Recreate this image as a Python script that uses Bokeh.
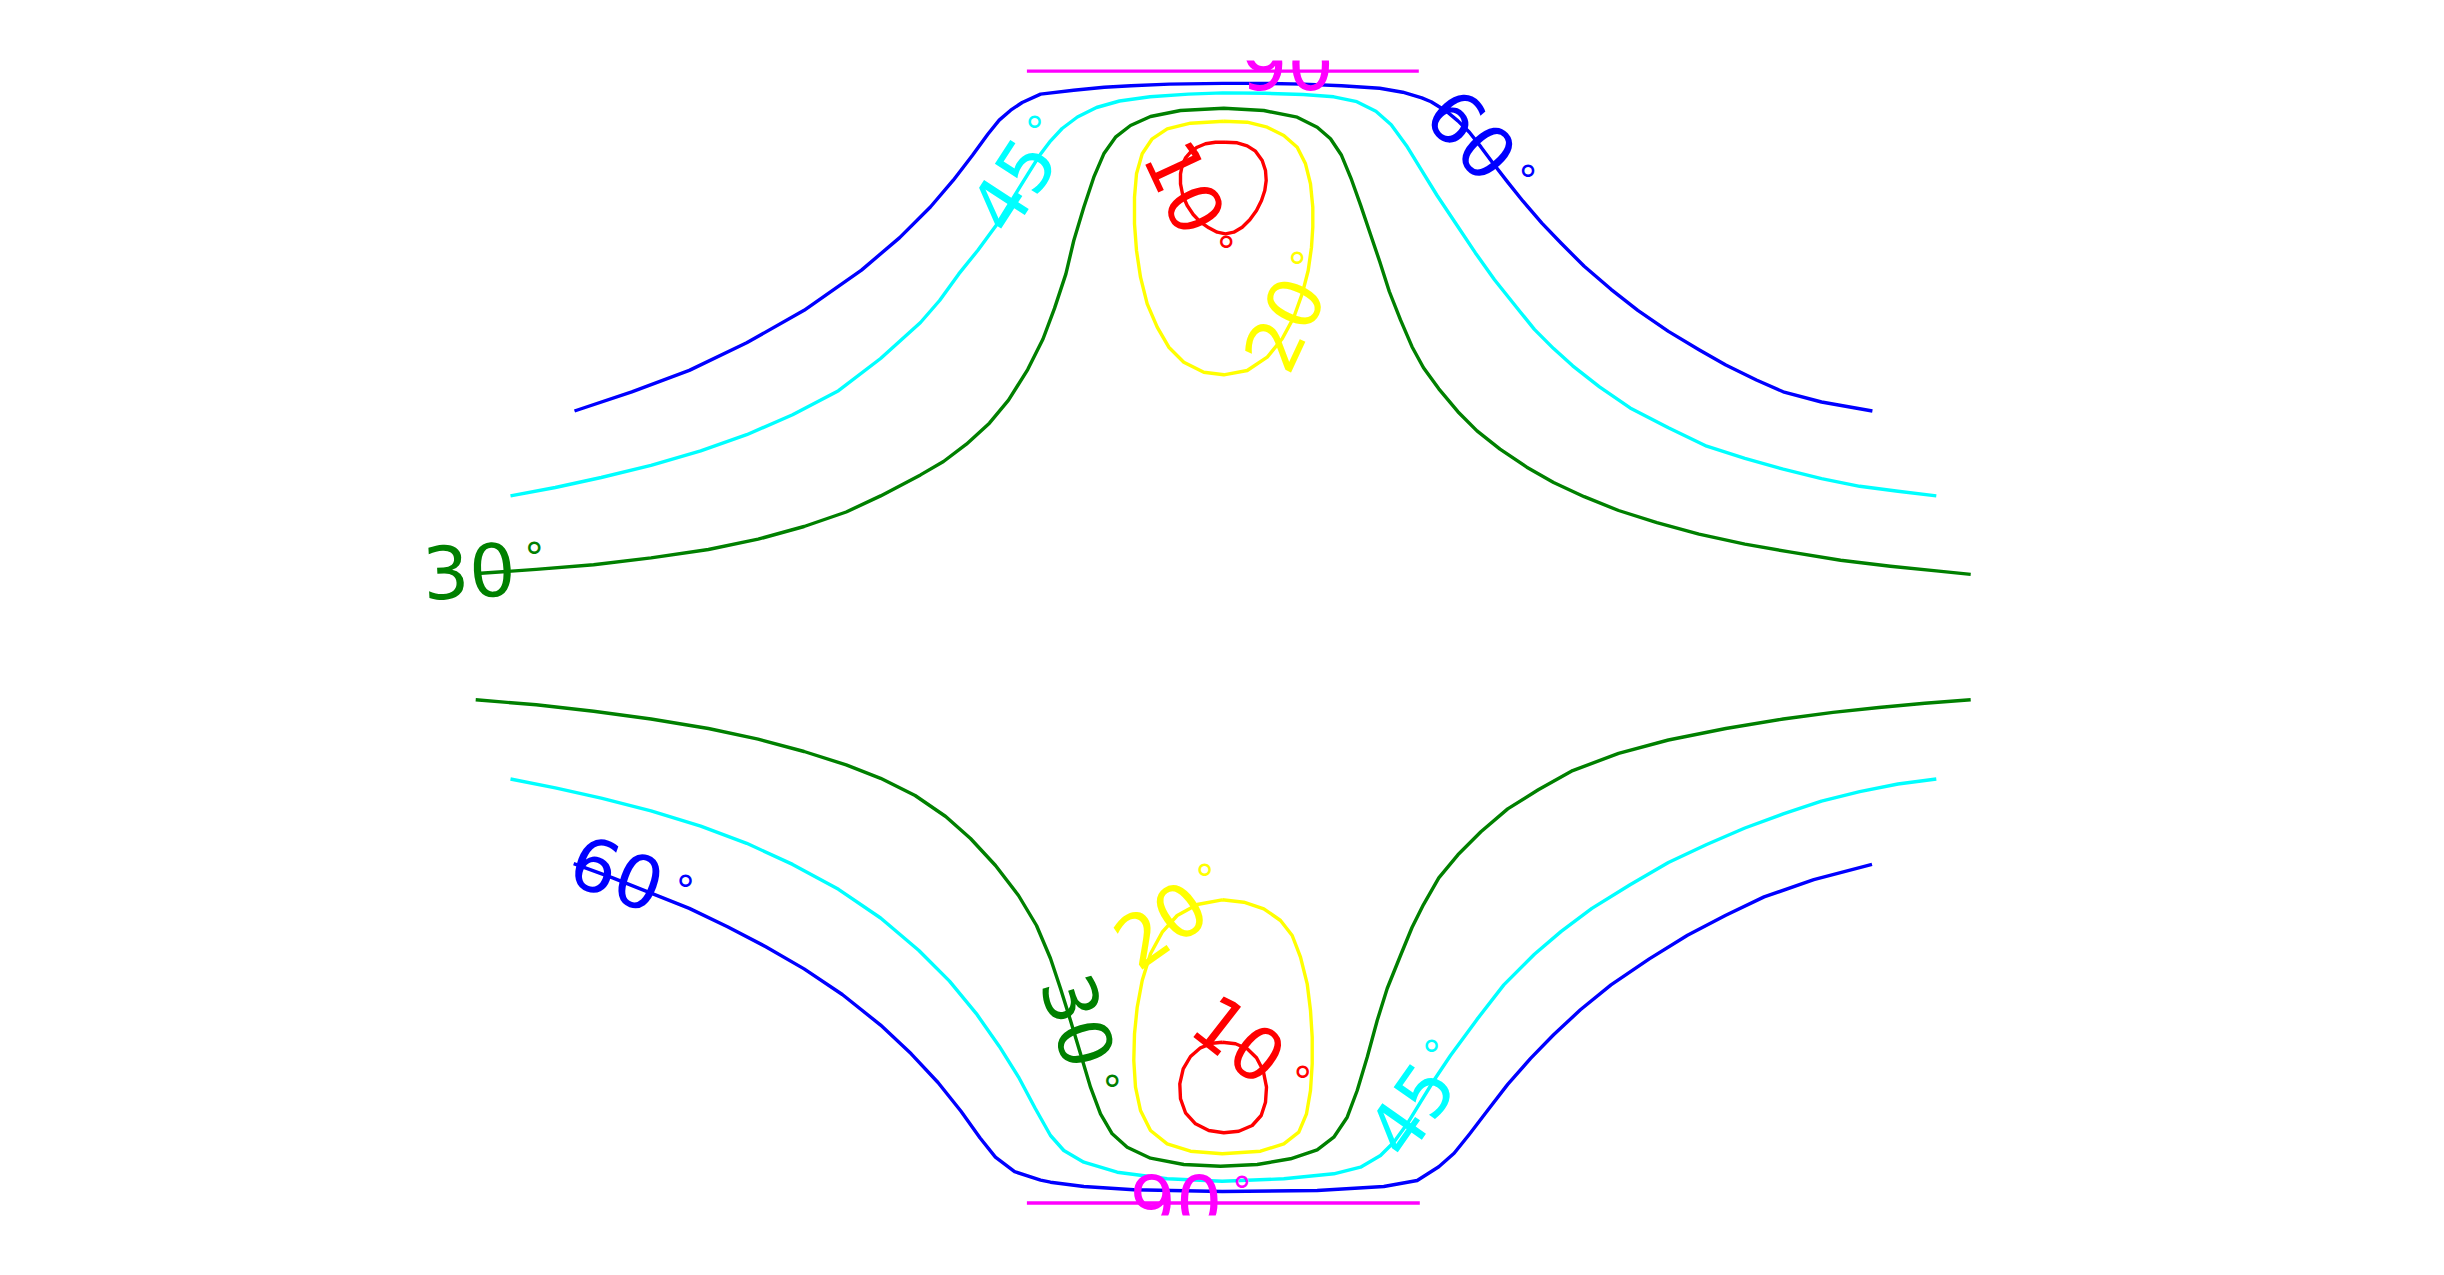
from bokeh.plotting import figure
from bokeh.models import Range1d, ColumnDataSource
from bokeh.embed import file_html
from bokeh.resources import INLINE
from bokeh.core.properties import value

# ---- contour levels and their colours ----
levels = [10, 20, 30, 45, 60, 90]
level_colors = ["#ff0000", "#ffff00", "#008000", "#00ffff", "#0000ff", "#ff00ff"]

# ---- contour paths (page pixel units, y downward) ----
c60_top_x = [574.0, 631.3, 688.8, 746.2, 803.6, 861.0, 899.2, 929.9, 952.8, 972.0, 987.3, 998.7, 1010.2, 1021.7, 1040.1,
             1073.1, 1103.7, 1130.5, 1168.8, 1222.3, 1264.4, 1302.7, 1341.0, 1379.2, 1402.2, 1421.3,
             1430.6, 1445.9, 1457.4, 1468.9, 1480.4, 1491.8, 1507.2, 1522.5, 1541.6, 1560.7, 1583.7, 1610.5,
             1637.3, 1667.9, 1698.5, 1725.3, 1755.9, 1782.7, 1821.0, 1871.9]
c60_top_y = [410.5, 391.3, 369.9, 342.3, 309.8, 269.6, 237.1, 206.5, 179.7, 154.8, 133.8, 119.6, 109.7, 102.0, 93.6,
             89.8, 86.7, 85.2, 83.6, 82.9, 82.9, 83.6, 85.2, 87.8, 91.7, 97.4,
             101.2, 110.8, 120.4, 131.8, 146.4, 161.7, 181.6, 200.7, 222.9, 242.8, 265.8, 288.8,
             309.8, 330.9, 349.2, 364.5, 379.5, 391.3, 401.5, 410.5]

c45_top_x = [510.0, 554.8, 600.7, 650.5, 700.2, 746.2, 792.1, 838.0, 880.1,
             920.0, 939.1, 958.3, 977.4, 996.5, 1011.8, 1027.2, 1038.6, 1050.1, 1061.6, 1076.9, 1096.0, 1119.0,
             1149.6, 1187.9, 1222.3, 1264.4, 1302.7, 1333.3, 1356.3, 1375.4, 1390.7, 1406.0, 1421.3, 1436.6,
             1455.8, 1474.9, 1494.0, 1520.0, 1533.9, 1553.1, 1572.2, 1599.0, 1629.6, 1667.9, 1706.2, 1744.4,
             1782.7, 1821.0, 1859.2, 1897.5, 1935.8]
c45_top_y = [495.4, 487.0, 477.0, 464.8, 450.3, 434.2, 414.3, 390.2, 358.0,
             322.0, 300.0, 273.4, 249.7, 223.7, 198.8, 173.9, 155.6, 140.3, 128.0, 116.5, 107.0, 100.5,
             96.3, 93.6, 92.4, 92.8, 94.0, 96.3, 101.2, 110.8, 124.2, 145.2, 170.1, 195.0,
             223.7, 252.4, 279.2, 311.7, 328.9, 348.1, 365.3, 386.3, 407.4, 427.3, 445.7, 457.9,
             468.6, 478.2, 485.8, 490.8, 495.4]

c30_top_x = [480.2, 535.7, 593.1, 650.5, 707.9, 757.6, 803.6, 845.7, 880.1,
             920.0, 943.0, 965.9, 988.9, 1008.0, 1027.2, 1042.5, 1054.0, 1065.4,
             1073.3, 1083.3, 1093.3, 1103.3, 1115.0, 1130.0, 1150.0, 1180.0, 1223.3, 1263.3, 1296.7, 1316.7, 1330.0,
             1341.0, 1350.5, 1360.1, 1369.7, 1379.2, 1388.8,
             1400.0, 1411.5, 1423.0, 1438.3, 1457.4, 1476.5, 1499.5, 1526.3, 1553.1, 1583.7, 1618.1, 1656.4,
             1698.5, 1744.4, 1790.4, 1840.1, 1889.9, 1935.8, 1970.2]
c30_top_y = [572.7, 568.9, 564.3, 557.4, 549.0, 538.7, 526.0, 511.5, 495.4,
             474.4, 461.0, 443.7, 422.7, 399.7, 369.1, 338.5, 307.9, 273.4,
             240.0, 206.7, 176.7, 153.3, 136.7, 125.0, 116.0, 110.0, 107.7, 110.0, 116.7, 126.7, 138.3,
             154.8, 177.8, 204.6, 233.0, 261.0, 291.0,
             319.4, 346.2, 367.2, 388.3, 411.2, 430.4, 448.7, 466.7, 482.0, 496.2, 510.0, 522.2,
             533.7, 543.6, 551.7, 559.7, 565.8, 570.4, 573.9]

c20_top_x = [1223.3, 1246.7, 1266.7, 1283.3, 1296.7, 1305.0, 1310.0, 1312.3, 1312.3, 1311.0, 1307.7, 1301.7,
             1293.3, 1281.7, 1266.7, 1246.7, 1223.3, 1203.3, 1183.3, 1168.3, 1156.7, 1146.7, 1140.0, 1136.0,
             1134.0, 1134.0, 1136.0, 1141.7, 1151.7, 1166.7, 1190.0, 1223.3]
c20_top_y = [120.7, 121.7, 126.7, 135.0, 146.7, 163.3, 183.3, 206.7, 226.7, 246.7, 270.0, 293.3,
             316.7, 338.3, 356.7, 370.0, 374.3, 371.7, 361.7, 346.7, 326.7, 303.3, 276.7, 250.0,
             223.3, 196.7, 173.3, 153.3, 138.3, 128.3, 122.7, 120.7]

c10_top_x = [1225.0, 1236.7, 1246.7, 1255.0, 1261.7, 1265.0, 1265.7, 1264.3, 1261.0, 1256.0, 1249.3, 1241.7,
             1233.3, 1225.0, 1216.7, 1208.3, 1200.0, 1192.7, 1186.7, 1182.3, 1180.0, 1180.0, 1181.7, 1185.0,
             1190.0, 1196.7, 1205.0, 1215.0, 1225.0]
c10_top_y = [141.7, 142.3, 145.3, 150.7, 160.0, 170.0, 180.0, 190.0, 200.0, 210.0, 219.3, 226.7,
             231.7, 233.3, 231.7, 227.3, 221.7, 214.0, 205.0, 195.0, 183.3, 173.3, 165.0, 157.3,
             151.7, 146.7, 143.3, 141.7, 141.7]

c90_top_x = [1026.4, 1418.3]
c90_top_y = [70.6, 70.6]

c60_bot_x = [573.2, 612.2, 650.5, 688.8, 727.0, 765.3, 803.6, 841.8, 880.1, 910.7, 937.5, 960.5, 979.6, 994.9,
             1014.1, 1040.1, 1050.0, 1083.3, 1133.3, 1221.7, 1316.7, 1383.3, 1416.7,
             1438.3, 1453.6, 1468.9, 1488.0, 1507.2, 1530.1, 1553.1, 1579.9, 1610.5, 1648.8, 1687.0, 1725.3,
             1763.6, 1813.3, 1871.5]
c60_bot_y = [863.1, 877.3, 892.6, 907.9, 926.3, 946.2, 968.4, 994.0, 1024.6, 1053.3, 1082.0, 1110.7, 1137.5, 1156.6,
             1171.2, 1179.6, 1181.7, 1186.0, 1189.3, 1191.0, 1190.0, 1186.0, 1180.0,
             1166.2, 1152.8, 1133.7, 1108.8, 1083.9, 1057.9, 1034.2, 1009.3, 984.4, 958.4, 934.7, 914.8,
             896.4, 879.2, 863.9]

c45_bot_x = [510.0, 554.8, 600.7, 650.5, 700.2, 746.2, 792.1, 838.0, 880.1, 918.4, 949.0, 975.8, 998.7, 1017.9,
             1034.8, 1050.0, 1063.3, 1083.3, 1116.7, 1166.7, 1221.7, 1283.3, 1333.3, 1360.0, 1380.0, 1393.3,
             1406.7, 1420.0, 1433.3, 1450.0, 1476.5, 1503.3, 1533.9, 1560.7, 1591.4, 1629.6, 1667.9, 1706.2,
             1744.4, 1782.7, 1821.0, 1859.2, 1897.5, 1935.8]
c45_bot_y = [778.5, 787.3, 797.7, 810.3, 825.6, 842.8, 863.9, 888.8, 917.5, 950.0, 980.6, 1013.1, 1045.7, 1076.3,
             1108.0, 1135.0, 1150.0, 1161.7, 1171.7, 1178.3, 1180.7, 1178.3, 1173.3, 1166.7, 1155.0, 1141.7,
             1123.3, 1101.7, 1080.0, 1055.0, 1018.9, 984.4, 953.8, 930.9, 907.9, 884.2, 862.0, 844.0,
             827.5, 813.4, 800.7, 791.2, 783.5, 778.5]

c30_bot_x = [475.2, 535.7, 593.1, 650.5, 707.9, 757.6, 803.6, 845.7, 880.1, 914.6, 945.2, 970.0, 995.0, 1018.0,
             1036.0, 1050.0, 1060.0, 1070.0, 1080.0, 1090.0, 1100.0, 1111.7, 1126.7, 1150.0, 1183.3, 1220.0, 1256.7,
             1290.0, 1316.7, 1333.3, 1346.7, 1356.7, 1366.7, 1376.7, 1386.7,
             1400.0, 1411.5, 1423.0, 1438.3, 1457.4, 1480.4, 1507.2, 1537.8, 1572.2, 1618.1, 1667.9, 1725.3,
             1782.7, 1832.5, 1878.4, 1924.3, 1970.2]
c30_bot_y = [699.3, 704.3, 710.8, 718.5, 728.0, 738.7, 751.0, 764.4, 777.8, 795.0, 816.0, 838.0, 865.0, 895.0,
             925.0, 958.0, 988.0, 1020.0, 1053.3, 1086.7, 1113.3, 1133.3, 1146.7, 1157.7, 1164.0, 1165.7, 1164.0,
             1158.3, 1149.3, 1136.7, 1116.7, 1090.0, 1056.7, 1020.0, 988.0,
             955.0, 927.0, 904.1, 877.3, 854.3, 831.3, 808.4, 789.3, 770.1, 752.9, 739.5, 728.0,
             718.5, 711.9, 707.0, 702.8, 699.3]

c20_bot_x = [1221.7, 1243.3, 1263.3, 1280.0, 1291.7, 1300.0, 1306.7, 1310.0, 1311.7, 1311.7, 1310.0, 1306.0,
             1298.3, 1283.3, 1260.0, 1221.7, 1190.0, 1166.7, 1150.0, 1140.0, 1135.0, 1133.3, 1134.0, 1136.7,
             1141.7, 1150.0, 1161.7, 1176.7, 1196.7, 1221.7]
c20_bot_y = [899.3, 901.7, 908.3, 920.0, 935.0, 956.7, 983.3, 1010.0, 1036.7, 1063.3, 1090.0, 1113.3,
             1131.7, 1143.3, 1150.7, 1153.3, 1150.7, 1143.3, 1130.0, 1110.0, 1086.7, 1060.0, 1033.3, 1006.7,
             980.0, 953.3, 931.7, 915.0, 904.0, 899.3]

c10_bot_x = [1221.7, 1235.0, 1246.7, 1256.0, 1262.7, 1266.0, 1265.0, 1260.7, 1251.7, 1238.3, 1223.3, 1208.3,
             1195.0, 1185.0, 1180.0, 1179.3, 1182.7, 1190.0, 1200.0, 1211.7, 1221.7]
c10_bot_y = [1041.7, 1043.3, 1048.3, 1057.3, 1070.0, 1086.7, 1101.7, 1115.0, 1125.0, 1130.7, 1132.3, 1130.0,
             1123.3, 1112.3, 1098.3, 1083.3, 1068.3, 1056.0, 1047.3, 1042.7, 1041.7]

c90_bot_x = [1026.4, 1419.3]
c90_bot_y = [1202.5, 1202.5]

# ---- inline contour labels ----
label_text = ["30", "45", "60", "10", "20", "90", "60", "30", "20", "10", "45", "90"]
label_level = [30, 45, 60, 10, 20, 90, 60, 30, 20, 10, 45, 90]
label_x = [468.5, 1012.0, 1471.6, 1185.0, 1283.3, 1287.0, 616.8, 1078.3, 1160.0, 1239.0, 1410.0, 1175.5]
label_y = [570.0, 184.0, 133.8, 186.7, 323.3, 62.5, 872.3, 1020.0, 923.3, 1038.3, 1108.3, 1200.0]
label_angle = [3, 57, -48, -65, 65, 0, -20, -73, 35, -38, 55, 0]
degree_x = [533.8, 1034.0, 1527.4, 1225.7, 1296.7, 1353.0, 684.9, 1111.7, 1204.3, 1302.3, 1431.0, 1241.5]
degree_y = [547.8, 121.7, 170.9, 241.0, 257.7, 44.0, 880.3, 1080.0, 869.0, 1071.0, 1045.0, 1181.5]

# ---- build sources ----
paths = [
    (60, c60_top_x, c60_top_y), (45, c45_top_x, c45_top_y), (30, c30_top_x, c30_top_y),
    (20, c20_top_x, c20_top_y), (10, c10_top_x, c10_top_y), (90, c90_top_x, c90_top_y),
    (60, c60_bot_x, c60_bot_y), (45, c45_bot_x, c45_bot_y), (30, c30_bot_x, c30_bot_y),
    (20, c20_bot_x, c20_bot_y), (10, c10_bot_x, c10_bot_y), (90, c90_bot_x, c90_bot_y),
]
color_of = dict(zip(levels, level_colors))
line_src = ColumnDataSource(dict(
    xs=[pth[1] for pth in paths],
    ys=[pth[2] for pth in paths],
    color=[color_of[pth[0]] for pth in paths],
))
lab_src = ColumnDataSource(dict(
    x=label_x, y=label_y, text=label_text, angle=label_angle,
    color=[color_of[l] for l in label_level],
))
deg_src = ColumnDataSource(dict(
    x=degree_x, y=degree_y, text=["\u00b0"] * len(degree_x),
    color=[color_of[l] for l in label_level],
))

p = figure(width=2428, height=1259, title=None,
           x_range=Range1d(0, 2428), y_range=Range1d(1215, 60),
           x_axis_type=None, y_axis_type=None,
           output_backend="svg", toolbar_location=None,
           min_border_left=0, min_border_right=0,
           min_border_top=60, min_border_bottom=44)
p.outline_line_color = None
p.background_fill_color = "white"
p.border_fill_color = "white"

p.multi_line(xs="xs", ys="ys", line_color="color", line_width=3.4,
             line_join="round", source=line_src)

p.text(x="x", y="y", text="text", angle="angle", angle_units="deg",
       text_color="color", text_font=value("DejaVu Sans"), text_font_size="73px",
       text_align="center", text_baseline="middle", source=lab_src)

p.text(x="x", y="y", text="text", text_color="color",
       text_font=value("DejaVu Sans"), text_font_size="40px",
       text_align="center", text_baseline="middle", y_offset=10,
       source=deg_src)

open("out.html", "w").write(file_html(p, INLINE))
